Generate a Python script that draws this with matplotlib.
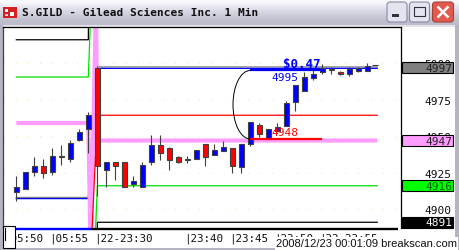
import numpy as np
import matplotlib
matplotlib.use("Agg")
import matplotlib.pyplot as plt
from matplotlib.patches import Rectangle, FancyBboxPatch, Arc
from matplotlib.transforms import ScaledTranslation, blended_transform_factory

W, H = 459, 251
plt.rcParams['font.family'] = ['DejaVu Sans Mono']

# 1 min bars: idx 0-8 previous session, idx 9-39 new session
opens  = [4911.5, 4913.8, 4925.2, 4929.3, 4925.2, 4935.5, 4934.1, 4947.1, 4954.7, 4996.7,
          4927.0, 4932.1, 4932.1, 4917.0, 4915.0, 4932.1, 4943.7, 4941.7, 4935.5, 4933.4,
          4934.1, 4944.4, 4937.3, 4940.0, 4941.9, 4929.1, 4944.6, 4957.6, 4948.0, 4953.3,
          4956.7, 4973.6, 4981.1, 4989.8, 4994.1, 4995.4, 4993.7, 4992.5, 4994.4, 4994.8]
highs  = [4922.5, 4925.2, 4935.5, 4934.1, 4941.7, 4943.7, 4947.1, 4954.7, 4966.3, 4998.0,
          4932.1, 4932.1, 4932.1, 4922.5, 4932.1, 4950.8, 4950.8, 4942.3, 4936.2, 4936.2,
          4940.3, 4944.4, 4944.6, 4946.7, 4941.9, 4944.6, 4959.5, 4958.8, 4954.9, 4958.8,
          4974.3, 4985.0, 4993.7, 4995.3, 4999.4, 4997.5, 4994.4, 4997.1, 4997.1, 4999.9]
lows   = [4905.8, 4913.8, 4922.5, 4921.1, 4923.2, 4930.0, 4932.1, 4946.5, 4938.2, 4909.0,
          4915.0, 4920.2, 4915.0, 4915.0, 4915.0, 4930.0, 4933.4, 4926.6, 4931.4, 4931.4,
          4934.1, 4929.7, 4937.3, 4940.0, 4924.7, 4924.7, 4943.4, 4949.2, 4948.0, 4953.3,
          4956.7, 4967.4, 4981.1, 4988.4, 4992.5, 4992.5, 4992.1, 4991.4, 4993.7, 4994.8]
closes = [4915.0, 4925.2, 4929.3, 4924.5, 4936.2, 4935.6, 4945.1, 4952.6, 4964.3, 4929.8,
          4932.1, 4929.3, 4915.0, 4919.1, 4930.0, 4943.7, 4938.2, 4933.4, 4932.1, 4934.1,
          4940.3, 4935.5, 4940.5, 4942.8, 4929.7, 4944.6, 4959.5, 4951.5, 4954.9, 4956.5,
          4972.5, 4985.0, 4990.3, 4992.5, 4996.5, 4995.6, 4992.5, 4996.0, 4996.7, 4998.2]
last_price = 4998.7

# level lines (bar index, price); nan breaks where the line leaves the chart
black_x = [0, 8, 8.03, np.nan, 8.99, 9, 40.1]
black_y = [5016, 5016, 5040, np.nan, 4870, 4891, 4891]
green_x = [0, 8, 8.3, np.nan, 8.7, 9, 40.1]
green_y = [4990.5, 4990.5, 5040, np.nan, 4870, 4916, 4916]
pink_x = [0, 8, 8.25, 8.85, 9, 40.1]
pink_y = [4959, 4959, 4870, 5040, 4947, 4947]
red_x = [8.3, 9, 40.1]
red_y = [4870, 4964.3, 4964.3]
gray_x = [0, 8, 9, 40.1]
gray_y = [4908, 4908, 4997.4, 4997.4]
blue_x = [0, 8, 9, 40.1]
blue_y = [4907.2, 4907.2, 4996.4, 4996.4]

# range annotation
rng_x = [26, 34]
rng_hi, rng_lo = 4995, 4948
rng_text = r'\$0.47'

# right axis
ytick_vals = [5000, 4975, 4950, 4925, 4900]
box_vals = [4997, 4947, 4916, 4891]
box_face = ['#808080', '#ff9cff', '#00ff00', '#000000']
box_text = ['#202020', '#202020', '#006000', '#ffffff']

# bottom axis
xtick_pos = [-1, 4, 9, 19, 24, 29, 34]
xtick_lab = ['|05:50', '|05:55', '|22-23:30', '|23:40', '|23:45', '|23:50', '|22-23:55']

title = 'S.GILD - Gilead Sciences Inc. 1 Min'
stamp = '2008/12/23 00:01:09 breakscan.com'

fig = plt.figure(figsize=(W / 100, H / 100), dpi=100, facecolor='white')


def rect(x0, y0, x1, y1):
    return [x0 / W, 1 - y1 / H, (x1 - x0) / W, (y1 - y0) / H]


# window chrome (pixel coordinates)
bg = fig.add_axes([0, 0, 1, 1], zorder=-1)
bg.set_xlim(0, W)
bg.set_ylim(H, 0)
bg.axis('off')
grad = np.array([[0.97, 0.97, 0.99], [0.88, 0.88, 0.92], [0.80, 0.80, 0.86], [0.74, 0.74, 0.80]])
bg.imshow(grad[:, None, :], extent=(0, W, 26, 0), aspect='auto', interpolation='bilinear')
bg.add_patch(Rectangle((0, 26), W, 2, fc='#e4e4ea', ec='none'))
bg.add_patch(Rectangle((0, 26), 2.5, H, fc='#b4b4c2', ec='none'))
bg.add_patch(Rectangle((455, 26), 4, H, fc='#b4b4c2', ec='none'))
bg.add_patch(Rectangle((0, 248.5), W, 3, fc='#b4b4c2', ec='none'))

# main chart
ax = fig.add_axes(rect(3, 28, 401, 229.5))
ax.set_xlim(-1.48, 42.74)
ax.set_ylim(4886.73, 5024.74)
ax.set_facecolor('white')

ax.grid(axis='y', color='#eeeebb', ls=(0, (1, 10)), lw=0.8, zorder=0)

ax.plot(gray_x, gray_y, color='#808080', lw=0.9, zorder=1)
ax.plot(blue_x, blue_y, color='#0000ff', lw=0.9, zorder=1)
ax.plot(pink_x, pink_y, color='#ff9cff', lw=3, zorder=1, solid_capstyle='butt')
ax.plot(black_x, black_y, color='black', lw=0.9, zorder=1)
ax.plot(green_x, green_y, color='#00e000', lw=0.9, zorder=1)
ax.plot(red_x, red_y, color='#ff0000', lw=0.9, zorder=1)

o = np.array(opens)
c = np.array(closes)
xi = np.arange(len(o))
cols = np.where(c >= o, '#0000ff', '#ff0000')
ax.vlines(xi, lows, highs, color='#404040', lw=0.8, zorder=3)
ax.bar(xi, np.maximum(np.abs(c - o), 0.7), 0.5, np.minimum(o, c), color=cols,
       edgecolor='#404040', linewidth=0.8, zorder=4)
ax.plot(len(o) - 0.1, last_price, marker='_', ms=4.5, mew=0.8, color='#404040', zorder=4)

# range annotation
ax.plot(rng_x, [rng_hi, rng_hi], color='#0000ff', lw=1.6, zorder=5, solid_capstyle='butt')
ax.plot(rng_x, [rng_lo, rng_lo], color='#ff0000', lw=1.6, zorder=5, solid_capstyle='butt')
ax.add_patch(Arc((rng_x[0], (rng_hi + rng_lo) / 2), 3.85, rng_hi - rng_lo,
                 theta1=90, theta2=270, color='black', lw=0.7, zorder=5))
mid = (rng_x[0] + rng_x[1]) / 2
ax.text(mid - 0.15, rng_hi - 4.3, str(rng_hi), color='#0000ff', fontsize=8,
        ha='center', va='center', zorder=6)
ax.text(mid - 0.15, rng_lo + 4.8, str(rng_lo), color='#ff0000', fontsize=8,
        ha='center', va='center', zorder=6)
ax.text(mid + 1.7, rng_hi + 4.7, rng_text, color='#0000ff', fontsize=9, fontweight='bold',
        ha='center', va='center', zorder=6)

# spines
for s in ['top', 'right']:
    ax.spines[s].set_color('black')
    ax.spines[s].set_linewidth(0.9)
ax.spines['left'].set_color('#404040')
ax.spines['left'].set_linewidth(0.9)
ax.spines['bottom'].set_visible(False)

xt = ax.get_xaxis_transform()
ax.plot([-0.15, 8.3], [0, 0], color='#0000ff', lw=1.7, transform=xt, clip_on=False,
        solid_capstyle='butt')
ax.plot([8.3, 42.4], [0, 0], color='black', lw=1.7, transform=xt, clip_on=False,
        solid_capstyle='butt')

# right price axis
ax.yaxis.tick_right()
ax.set_yticks(ytick_vals)
ax.tick_params(axis='y', length=0, pad=36.5, labelsize=8, labelcolor='#101010')
for lab in ax.get_yticklabels():
    lab.set_ha('right')

bt = blended_transform_factory(ax.transAxes, ax.transData)
for v, fc, tc in zip(box_vals, box_face, box_text):
    ax.add_patch(Rectangle((1.0033, v - 3.65), 0.128, 7.3, transform=bt, clip_on=False,
                           fc=fc, ec='black', lw=0.8, zorder=7))
    ax.text(1.128, v, str(v), transform=bt, ha='right', va='center', fontsize=8,
            color=tc, zorder=8, clip_on=False)

# time axis
ax.set_xticks(xtick_pos, xtick_lab)
ax.tick_params(axis='x', length=0, pad=3, labelsize=7.8, labelcolor='#101010')
shift = ScaledTranslation(-0.033, 0, fig.dpi_scale_trans)
for lab in ax.get_xticklabels():
    lab.set_ha('left')
    lab.set_transform(lab.get_transform() + shift)

# overlay: title bar widgets, scroll box, time stamp
ov = fig.add_axes([0, 0, 1, 1], zorder=5)
ov.set_xlim(0, W)
ov.set_ylim(H, 0)
ov.axis('off')
ov.patch.set_alpha(0)

ov.add_patch(Rectangle((3, 7.5), 14, 11.5, fc='#d42020', ec='none'))
ov.add_patch(Rectangle((5, 9.5), 3, 3, fc='white', ec='none'))
ov.add_patch(Rectangle((10, 12.5), 4, 4, fc='white', ec='none'))
ov.add_patch(Rectangle((5, 15), 3, 2, fc='#ffd0d0', ec='none'))
ov.text(21.5, 13.2, title, fontsize=8, fontweight='bold', va='center', ha='left',
        color='#101010')

for bx in [387, 409.5]:
    ov.add_patch(FancyBboxPatch((bx, 3), 20, 20, boxstyle='round,pad=0,rounding_size=3',
                                fc='#e4e4ee', ec='#8888a8', lw=0.8))
ov.add_patch(Rectangle((391.5, 15), 7, 2.5, fc='#303040', ec='none'))
ov.add_patch(Rectangle((414.3, 7.5), 10.7, 9.5, fc='none', ec='#303040', lw=0.8))
ov.add_patch(Rectangle((414.3, 7.5), 10.7, 1.6, fc='#303040', ec='none'))
ov.add_patch(FancyBboxPatch((432.5, 3), 21, 20, boxstyle='round,pad=0,rounding_size=3',
                            fc='#e05a50', ec='#a84038', lw=0.8))
ov.plot([437.5, 448.5], [7.5, 18.5], color='white', lw=1.8, solid_capstyle='butt')
ov.plot([448.5, 437.5], [7.5, 18.5], color='white', lw=1.8, solid_capstyle='butt')

ov.add_patch(Rectangle((3.3, 227), 11.7, 22, fc='white', ec='black', lw=0.8))
ov.plot([5.3, 5.3], [229, 241], color='black', lw=0.8)

ov.text(276, 244.5, stamp, family='Liberation Sans', fontsize=8, ha='left', va='center',
        color='#101010', bbox=dict(fc='white', ec='none', pad=0.8))

fig.savefig('out.png', dpi=100, facecolor='white')
